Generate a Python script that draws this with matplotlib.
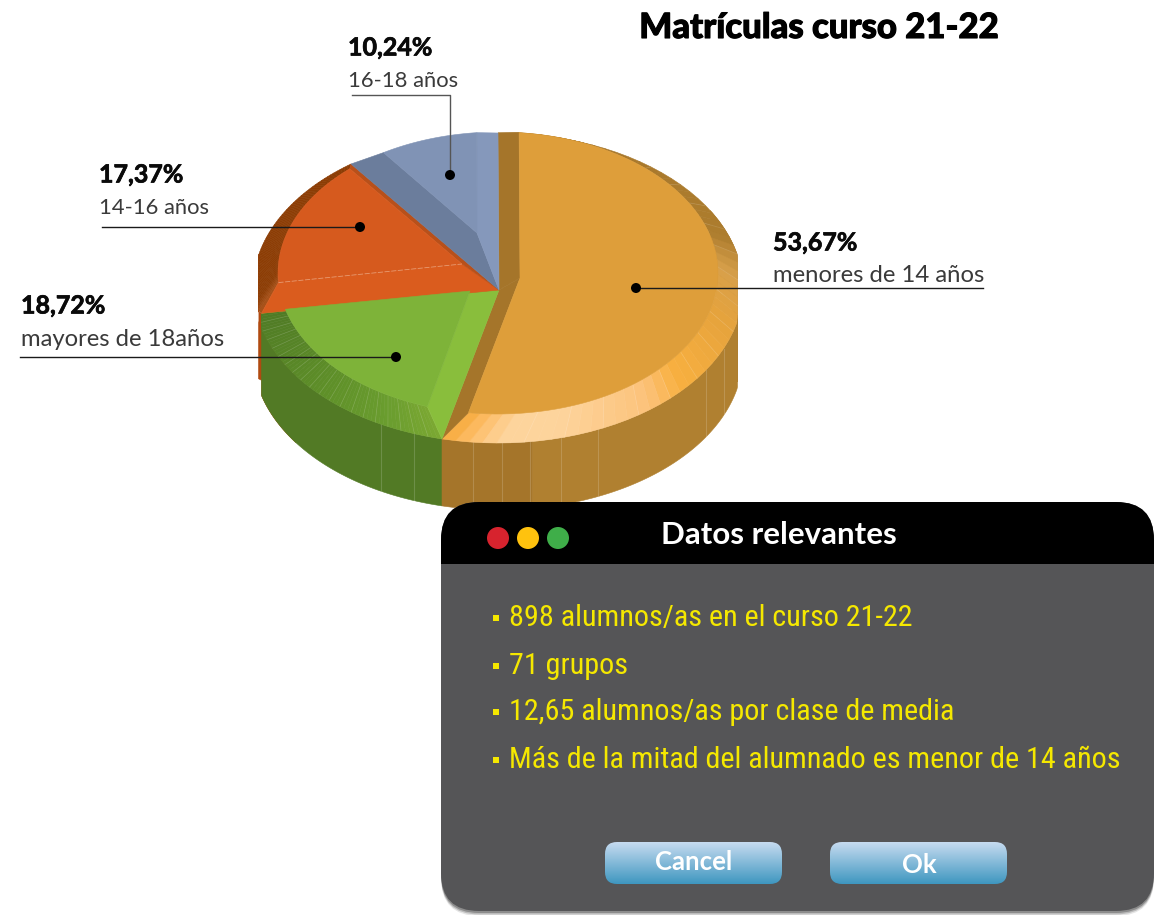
import numpy as np
import matplotlib
matplotlib.use("Agg")
import matplotlib.pyplot as plt
import matplotlib.patheffects as pe
from matplotlib.patches import Polygon, Circle, FancyBboxPatch, Rectangle
from matplotlib.colors import to_rgb

# datos
shares = [53.67, 18.72, 17.37, 10.24]
pct_labels = ["53,67%", "18,72%", "17,37%", "10,24%"]
names = ["menores de 14 años", "mayores de 18años", "14-16 años", "16-18 años"]
title = "Matrículas curso 21-22"
panel_title = "Datos relevantes"
facts = ["898 alumnos/as en el curso 21-22",
         "71 grupos",
         "12,65 alumnos/as por clase de media",
         "Más de la mitad del alumnado es menor de 14 años"]
buttons = ["Cancel", "Ok"]

NARROW = ["Roboto Condensed", "Liberation Sans Narrow", "Roboto", "DejaVu Sans"]
LABEL = ["Lato", "DejaVu Sans"]

# geometria del pastel en pixeles
CX, CY, A, B, CLIP, DEPTH = 498, 288, 245, 155, 239.5, 67
ICY, IA, IB, GAP = 273, 220, 141, 5.5
APEX = (499, 290)
INNER = [(520, 278), (470, 291), (462, 264), (477, 233)]

cum = np.concatenate([[0], np.cumsum(shares)]) * 360 / sum(shares)
t0, t1, t2, t3, t4 = cum


def rim(t):
    t = np.asarray(t, dtype=float)
    r = np.radians(t)
    x = np.clip(CX + A*np.sin(r), CX-CLIP, CX+CLIP)
    # el lado verde queda un poco metido respecto al rojo
    x = np.where((t > 180) & (t <= t2 + 0.01), np.maximum(x, 261.5), x)
    return np.column_stack([x, CY - B*np.cos(r)])


def inner(t):
    t = np.radians(np.asarray(t, dtype=float))
    return np.column_stack([CX + IA*np.sin(t), ICY - IB*np.cos(t)])


def arc(t_a, t_b, f):
    return f(np.linspace(t_a, t_b, 80))


def poly(pts, col, z=2):
    ax.add_patch(Polygon(np.vstack(pts), closed=True, fc=col, ec=col, lw=0.4, zorder=z))


def ramp(t, anchors):
    ts = [a[0] for a in anchors]
    rgb = np.array([to_rgb(a[1]) for a in anchors])
    return tuple(np.interp(t, ts, rgb[:, i]) for i in range(3))


fig = plt.figure(figsize=(11.54, 9.15), dpi=100)
ax = fig.add_axes([0, 0, 1, 1])
ax.set_axis_off()

# paredes laterales
for a, b, col in [(t2-25, t2+22, "#b04a10"), (t1, t2, "#527a25"), (60, 100, "#ab7a2c"),
                  (100, 172, "#b08030"), (172, t1, "#a5752a")]:
    top = arc(a, b, rim)
    poly([top, (top + [0, DEPTH])[::-1]], col, 1)
for t in [185.9, 179, 172.5, 165, 156, 122, 113, 208.5, 200]:
    p = rim([t])[0]
    ax.plot([p[0], p[0]], [p[1], p[1]+DEPTH], color="white", alpha=0.16, lw=0.8, zorder=1.5)

# biseles del borde
bevels = [
    (t0, t1, 0.12, [(0, "#a5752a"), (70, "#ad7d2e"), (85, "#d8a04a"), (105, "#e6a33c"), (130, "#f8b040"),
                    (140, "#fcc27a"), (165, "#fdd49c"), (178, "#fdd49c"), (186, "#fdbb64"), (t1, "#f4a530")]),
    (t1, t2, 0.12, [(t1, "#7ba832"), (205, "#6b9e2f"), (225, "#5f9029"), (t2, "#4f7a25")]),
    (t2, t3, 0, [(t2, "#a8521a"), (t2+5, "#8c3d05"), (t3, "#8c3d05")]),
]
for a, b, seam, anchors in bevels:
    out = np.linspace(a, b, 61)
    inn = np.linspace(a+GAP, b-GAP, 61)
    for i in range(60):
        col = ramp(out[i], anchors)
        poly([rim(out[i:i+2]), inner(inn[i:i+2])[::-1]], col, 2)
    # costuras finas del bisel
    if seam:
        for i in range(0, 61, 3):
            p, q = rim(out[i:i+1])[0], inner(inn[i:i+1])[0]
            ax.plot([p[0], q[0]], [p[1], q[1]], color="white", alpha=seam, lw=0.6, zorder=2.5)

# franjas inclinadas
poly([rim([t0]), inner([t0+GAP]), [INNER[0]], [APEX]], "#a5752a", 3)
poly([[APEX], [INNER[0]], inner([t1-GAP]), rim([t1])], "#a5752a", 3)
poly([[APEX], [INNER[1]], inner([t1+GAP]), rim([t1])], "#89be3c", 3)
poly([[APEX], rim([t2]), inner([t2-GAP]), [INNER[1]]], "#7eb339", 3)
poly([[APEX], rim([t2]), inner([t2+GAP]), [INNER[2]]], "#da5c1e", 3)
poly([[APEX], [INNER[2]], inner([t3-GAP]), rim([t3])], "#b8501a", 3)
poly([[APEX], rim([t3]), inner([t3+GAP]), [INNER[3]]], "#6b7d9c", 3)
poly([[APEX], [INNER[3]], inner([t4-GAP]), rim([t4])], "#8598bb", 3)

# caras superiores
poly([[INNER[0]], arc(t0+GAP, t1-GAP, inner)], "#de9e3a", 4)
poly([[INNER[1]], arc(t1+GAP, t2-GAP, inner)], "#7eb339", 4)
poly([[INNER[2]], arc(t2+GAP, t3-GAP, inner)], "#d65a1e", 4)
poly([[INNER[3]], arc(t3+GAP, t4-GAP, inner)], "#8093b5", 4)
p = inner([t2+GAP])[0]
ax.plot([p[0], INNER[2][0]], [p[1], INNER[2][1]], color="#e89a70", lw=0.6, ls=(0, (6, 2)), zorder=4.5)

# etiquetas y lineas guia: (texto x, y %, y nombre, x0, x1, y linea, punto, tamaño)
label_pos = [(773, 243, 276, 636, 983, 288, 636, 288, 17.2),
             (21, 306, 339, 20, 396, 357, 396, 357, 17.2),
             (99, 175, 208, 102, 360, 227, 360, 227, 15.8),
             (348, 48, 81, 352, 450, 95, 450, 175, 15.8)]
heavy = [pe.withStroke(linewidth=0.5, foreground="#0a0a0a")]
for (pct, name, lp) in zip(pct_labels, names, label_pos):
    x, y1, y2, lx0, lx1, ly, dx, dy, fs = lp
    ax.text(x, y1, pct, family=LABEL, fontsize=18, fontweight="bold", va="center", color="#0a0a0a",
            path_effects=heavy, zorder=8)
    ax.text(x, y2, name, family=LABEL, fontsize=fs, va="center", color="#3a3a3a", zorder=8)
    if ly == dy:
        ax.plot([lx0, lx1], [ly, ly], color="#1a1a1a", lw=1, zorder=7)
    else:
        ax.plot([lx0, lx1, dx], [ly, ly, dy], color="#555555", lw=1, zorder=7)
    ax.add_patch(Circle((dx, dy), 5, fc="black", ec="none", zorder=9))

ax.text(819, 28, title, family=LABEL, fontsize=25, fontweight="black", ha="center", va="center", color="black",
        path_effects=[pe.withStroke(linewidth=0.8, foreground="black")], zorder=8)

# ventana
PX0, PX1, PY0, PY1, RAD = 441, 1154, 502, 911, 38


def panel(dx=0, dy=0, **kw):
    return FancyBboxPatch((PX0+RAD+dx, PY0+RAD+dy), PX1-PX0-2*RAD, PY1-PY0-2*RAD,
                          boxstyle="round,pad=%d,rounding_size=%d" % (RAD, RAD), **kw)


for off, alpha in [(5, 0.10), (3.5, 0.18), (2, 0.25)]:
    ax.add_patch(panel(0, off, fc="black", ec="none", alpha=alpha, zorder=10))
ax.add_patch(panel(fc="#555557", ec="none", zorder=11))
head = panel(fc="black", ec="none", zorder=12)
ax.add_patch(head)
head.set_clip_path(Rectangle((PX0, PY0), PX1-PX0, 564-PY0, transform=ax.transData))

for x, col in zip([498, 528, 558], ["#d7232e", "#ffc20e", "#3fae49"]):
    ax.add_patch(Circle((x, 538), 11, fc=col, ec="none", zorder=13))
ax.text(779, 535, panel_title, family=LABEL, fontsize=22.5, fontweight="bold", ha="center", va="center", color="white", zorder=13)

for y, fact in zip([616, 664, 710, 758], facts):
    ax.add_patch(Rectangle((493, y-1), 6, 6, fc="#f5e800", ec="none", zorder=13))
    ax.text(509, y+2, fact, family=NARROW, fontsize=21.7, stretch="condensed", va="center", color="#f5e800", zorder=13)

# botones con degradado
grad = np.linspace(0, 1, 64)[:, None, None] * (np.array(to_rgb("#3f97c0")) - np.array(to_rgb("#c6dbf0"))) + np.array(to_rgb("#c6dbf0"))
for (x0, label, ty) in zip([605, 830], buttons, [862, 865]):
    box = FancyBboxPatch((x0+12, 854), 153, 18, boxstyle="round,pad=12,rounding_size=12", fc="none", ec="none", zorder=13)
    ax.add_patch(box)
    im = ax.imshow(grad, extent=[x0, x0+177, 884, 842], aspect="auto", zorder=13)
    im.set_clip_path(box)
    ax.text(x0+89, ty, label, family=LABEL, fontsize=18.5, fontweight="bold", ha="center", va="center", color="white", zorder=14)

ax.set_xlim(0, 1154)
ax.set_ylim(915, 0)
fig.savefig("out.png", dpi=100)
